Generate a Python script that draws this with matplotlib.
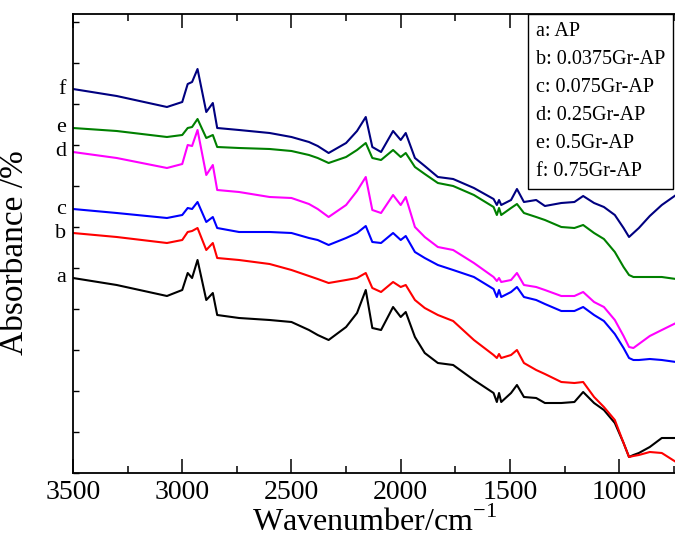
import matplotlib
matplotlib.use("Agg")
import matplotlib.pyplot as plt
from matplotlib.ticker import MultipleLocator
from matplotlib.lines import Line2D

plt.rcParams['font.family'] = ['Liberation Serif', 'DejaVu Serif']
plt.rcParams['mathtext.fontset'] = 'custom'
plt.rcParams['mathtext.rm'] = 'Liberation Serif'

# wavenumber grid (cm-1), shared by all spectra
wn = [3500, 3300, 3070, 3000, 2975, 2955, 2930, 2890, 2860, 2840,
      2740, 2600, 2500, 2420, 2380, 2330, 2250, 2200, 2160, 2130,
      2090, 2035, 2000, 1977, 1935, 1890, 1830, 1760, 1665, 1575,
      1560, 1550, 1540, 1495, 1468, 1436, 1380, 1340, 1265, 1205,
      1165, 1115, 1070, 1020, 980, 955, 935, 910, 860, 805, 740]

# absorbance (arbitrary units, curves already offset)
ap = [195, 188, 177, 183, 200, 195, 213, 173, 180, 158,
      155, 153, 151, 143, 138, 133, 146, 160, 183, 145,
      143, 166, 156, 161, 136, 120, 110, 108, 93, 80,
      71, 80, 71, 80, 88, 76, 75, 70, 70, 71,
      81, 70, 63, 50, 30, 16, 18, 20, 26, 35, 35]
gr0375 = [240, 236, 230, 233, 241, 242, 245, 223, 230, 215,
          213, 209, 203, 197, 194, 190, 193, 195, 200, 185,
          181, 191, 186, 188, 173, 165, 158, 152, 133, 118,
          115, 119, 115, 118, 123, 110, 103, 99, 91, 90,
          91, 76, 66, 53, 30, 16, 17, 18, 21, 20, 11]
gr075 = [264, 260, 255, 258, 265, 264, 271, 251, 256, 245,
         241, 241, 240, 235, 233, 228, 235, 240, 247, 231,
         230, 240, 233, 237, 221, 215, 208, 203, 196, 184,
         176, 183, 176, 181, 186, 176, 173, 169, 162, 162,
         166, 158, 152, 139, 125, 115, 113, 113, 114, 113, 111]
gr025 = [321, 315, 305, 309, 328, 327, 343, 298, 308, 283,
         281, 276, 275, 269, 264, 256, 268, 282, 296, 263,
         260, 278, 268, 276, 246, 236, 226, 223, 210, 196,
         192, 195, 191, 193, 200, 188, 186, 183, 177, 177,
         181, 171, 166, 153, 137, 126, 125, 129, 137, 143, 150]
gr05 = [345, 342, 336, 338, 345, 346, 354, 335, 338, 326,
        325, 324, 322, 318, 315, 310, 316, 323, 330, 315,
        313, 323, 316, 320, 306, 299, 290, 287, 278, 266,
        258, 265, 258, 265, 269, 260, 256, 253, 246, 245,
        248, 240, 234, 221, 206, 198, 196, 196, 196, 196, 194]
gr075b = [384, 377, 366, 371, 389, 391, 404, 361, 370, 345,
          343, 340, 336, 331, 327, 320, 330, 342, 356, 326,
          321, 342, 333, 340, 315, 307, 296, 294, 285, 274,
          268, 273, 268, 273, 284, 271, 273, 267, 270, 271,
          277, 270, 266, 258, 245, 236, 240, 245, 257, 268, 278]

series = [ap, gr0375, gr075, gr025, gr05, gr075b]
letters = ['a', 'b', 'c', 'd', 'e', 'f']
names = ['AP', '0.0375Gr-AP', '0.075Gr-AP', '0.25Gr-AP', '0.5Gr-AP', '0.75Gr-AP']
colors = ['black', 'red', 'blue', 'magenta', 'green', 'navy']

fig = plt.figure(figsize=(6.75, 5.46), dpi=100)
ax = fig.add_axes([73 / 675, 73 / 546, 603 / 675, 459 / 546])

for y, c, l in zip(series, colors, letters):
    ax.plot(wn, y, color=c, lw=1.5)
    ax.annotate(l, xy=(3500, y[0]), xytext=(-5, 0), textcoords='offset points',
                ha='right', va='center', fontsize=16, annotation_clip=False)

ax.set_xlim(3500, 740)
ax.set_ylim(0, 459)
ax.xaxis.set_major_locator(MultipleLocator(500))
ax.xaxis.set_minor_locator(MultipleLocator(250))
ax.yaxis.set_major_locator(MultipleLocator(41))
ax.set_yticklabels([])
ax.tick_params(axis='x', which='major', direction='in', length=10, width=1.1,
               labelsize=20, top=True, pad=5)
ax.tick_params(axis='x', which='minor', direction='in', length=5, width=1.1, top=True)
ax.tick_params(axis='y', which='major', direction='in', length=4, width=1.0)
for s in ax.spines.values():
    s.set_linewidth(1.3)

ax.set_xlabel('Wavenumber/cm$^{\\mathregular{-1}}$', fontsize=23, labelpad=1)
ax.set_ylabel('Absorbance /%', fontsize=24)
ax.yaxis.set_label_coords(-0.072, 0.48)

handles = [Line2D([], [], lw=0) for _ in names]
leg = ax.legend(handles, [l + ': ' + n for l, n in zip(letters, names)],
                loc='upper right', bbox_to_anchor=(673 / 675, 532 / 546),
                bbox_transform=fig.transFigure, borderaxespad=0,
                handlelength=0, handletextpad=0, fontsize=14.5,
                labelspacing=0.44, borderpad=0.4, fancybox=False,
                framealpha=1, edgecolor='black')
leg.get_frame().set_linewidth(1.0)

plt.savefig('out.png', dpi=100)
